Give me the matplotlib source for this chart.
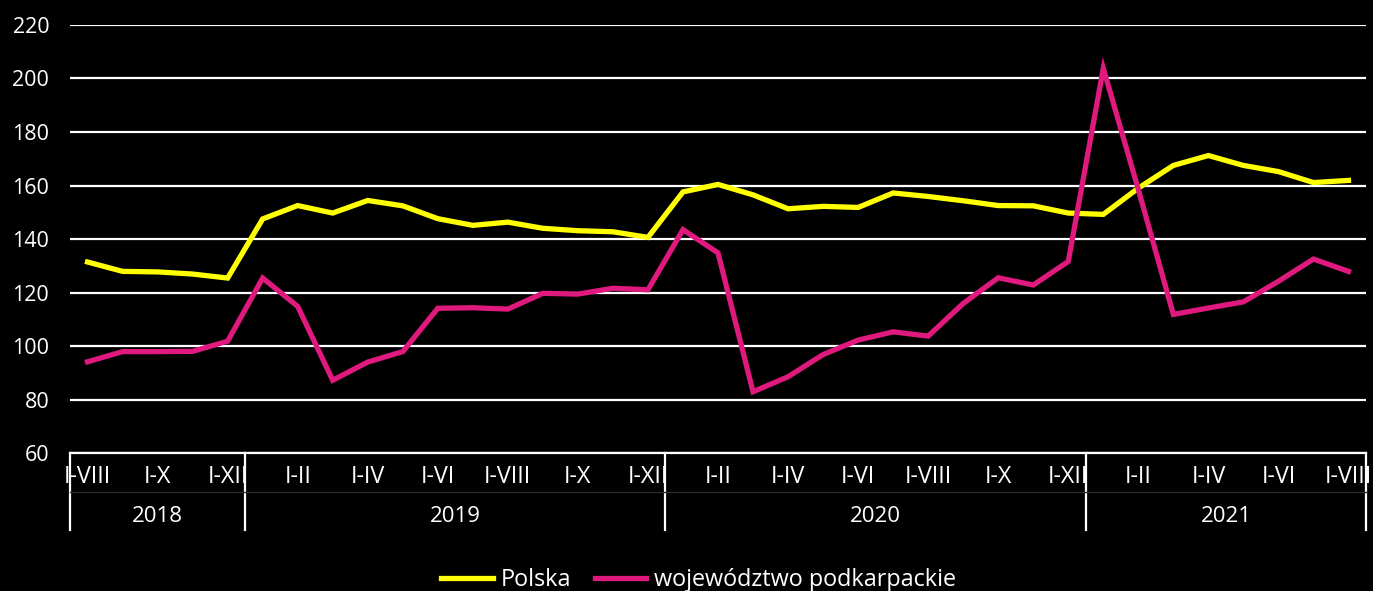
import matplotlib.pyplot as plt
import matplotlib.transforms as mtransforms

plt.rcParams['font.family'] = ['Open Sans', 'DejaVu Sans']

# months shown as cumulative periods (I-I ... I-XII)
months = (['I-VIII', 'I-IX', 'I-X', 'I-XI', 'I-XII']
          + ['I-I', 'I-II', 'I-III', 'I-IV', 'I-V', 'I-VI', 'I-VII', 'I-VIII', 'I-IX', 'I-X', 'I-XI', 'I-XII'] * 2
          + ['I-I', 'I-II', 'I-III', 'I-IV', 'I-V', 'I-VI', 'I-VII', 'I-VIII'])
years = ['2018', '2019', '2020', '2021']
year_counts = [5, 12, 12, 8]

polska = [131.4, 127.9, 127.7, 126.9, 125.4,
          147.5, 152.5, 149.7, 154.4, 152.4, 147.6, 145.1, 146.3, 144.0, 143.1, 142.7, 140.6,
          157.6, 160.4, 156.5, 151.3, 152.2, 151.8, 157.2, 155.9, 154.3, 152.5, 152.4, 149.7,
          149.2, 159.0, 167.5, 171.2, 167.5, 165.2, 161.1, 161.9]
podkarpackie = [94.1, 97.9, 97.9, 98.0, 101.8,
                125.4, 114.8, 87.2, 94.0, 97.9, 114.1, 114.3, 113.8, 119.7, 119.4, 121.6, 121.0,
                143.5, 134.8, 82.9, 88.5, 96.8, 102.2, 105.3, 103.7, 115.9, 125.5, 122.8, 131.6,
                203.8, 158.5, 111.8, 114.2, 116.5, 124.2, 132.5, 127.9]

fig = plt.figure(figsize=(13.73, 5.91), dpi=100, facecolor='black')
ax = fig.add_axes([0.051, 0.2335, 0.9439, 0.7242])
ax.set_facecolor('black')

x = list(range(len(months)))
ax.plot(x, polska, color='#ffff00', lw=3.8, label='Polska', solid_joinstyle='miter')
ax.plot(x, podkarpackie, color='#e0197e', lw=3.8, label='województwo podkarpackie', solid_joinstyle='miter')

ax.set_xlim(-0.5, len(months) - 0.5)
ax.set_ylim(60, 220)
ax.set_yticks(range(60, 221, 20))
ax.grid(axis='y', color='white', lw=1.6)
ax.set_axisbelow(True)
for s in ['top', 'right', 'left']:
    ax.spines[s].set_visible(False)
ax.spines['bottom'].set_color('white')
ax.spines['bottom'].set_linewidth(1.6)
ax.tick_params(axis='y', colors='white', labelsize=15.5, length=0, pad=15)
ax.set_xticks([])

trans = mtransforms.blended_transform_factory(ax.transData, ax.transAxes)
for i in range(0, len(months), 2):
    ax.text(i, -0.055, months[i], transform=trans, ha='center', va='center',
            color='white', fontsize=16.8)

# year groups with separators
start = -0.5
bounds = [start]
for name, n in zip(years, year_counts):
    end = start + n
    ax.text((start + end) / 2, -0.148, name, transform=trans, ha='center', va='center',
            color='white', fontsize=16)
    bounds.append(end)
    start = end
for b in bounds:
    ax.plot([b, b], [0, -0.18], transform=trans, color='white', lw=1.6, clip_on=False)
ax.plot([-0.5, len(months) - 0.5], [-0.092, -0.092], transform=trans, color='#2a2a2a',
        lw=1, clip_on=False)

leg = fig.legend(loc='center', bbox_to_anchor=(0.509, 0.018), ncol=2, frameon=False,
                 fontsize=16.8, handlelength=2.2, handletextpad=0.35, columnspacing=1.0)
for t in leg.get_texts():
    t.set_color('white')

fig.savefig('out.png', dpi=100, facecolor='black')
